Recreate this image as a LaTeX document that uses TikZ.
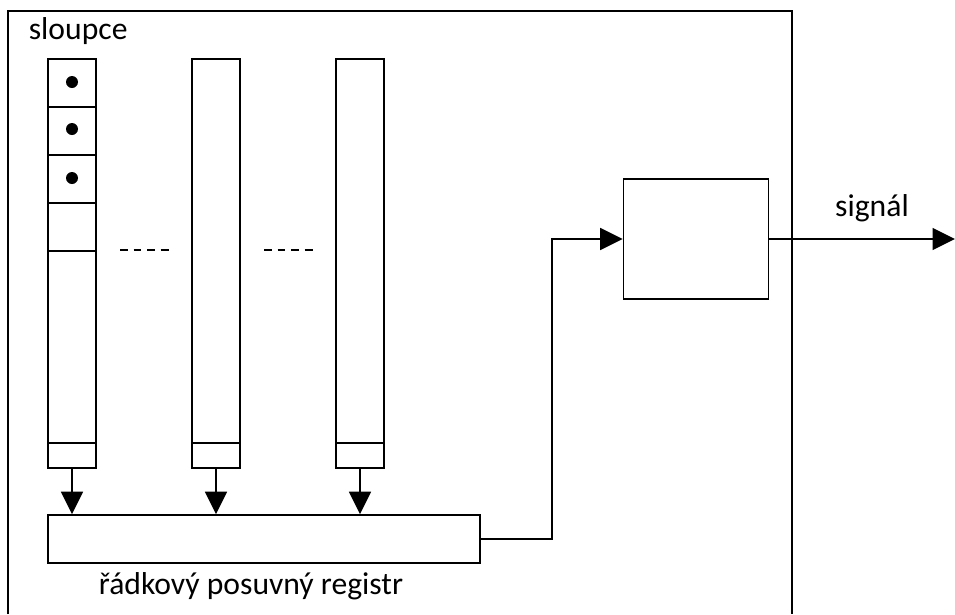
\documentclass[tikz,border=0pt]{standalone}
\usepackage{fontspec}
\setmainfont{Carlito}
\usetikzlibrary{arrows.meta, positioning, calc}

\begin{document}
\begin{tikzpicture}[
    x=0.2mm, y=-0.2mm,
    font=\fontsize{18}{22}\selectfont,
    line width=1pt,
    column/.style={
        rectangle, draw=black, fill=white,
        minimum width=9.6mm, minimum height=81.8mm, inner sep=0pt
    },
    block/.style={
        rectangle, draw=black, fill=white, inner sep=0pt
    },
    dot/.style={circle, fill=black, inner sep=0pt, minimum size=2.4mm},
    gap/.style={dash pattern=on 4.5pt off 3.2pt, line width=0.8pt},
    arrow/.style={draw=black, -{Triangle[length=4.5mm, width=4.4mm]}}
]
\useasboundingbox (0,0) rectangle (955,614);

% 1. OUTER FRAME (open at the bottom)
\draw (8,614) -- (8,11) -- (792,11) -- (792,614);
\node[anchor=west, inner sep=0pt] (Title) at (28,31) {sloupce};

% 2. COLUMNS
\node[column] (Col1) at (72,263.5) {};
\node[column] (Col2) at (216,263.5) {};
\node[column] (Col3) at (360,263.5) {};

% Column 1 cells
\draw (48,107) -- (96,107);
\draw (48,155) -- (96,155);
\draw (48,203) -- (96,203);
\draw (48,251) -- (96,251);
\node[dot] (Dot1) at (72,82) {};
\node[dot] (Dot2) at (72,129) {};
\node[dot] (Dot3) at (72,178) {};

% Last cell of every column
\draw (48,443) -- (96,443);
\draw (192,443) -- (240,443);
\draw (336,443) -- (384,443);

% Dots between the columns
\draw[gap] (120,250) -- (170,250);
\draw[gap] (264,250) -- (314,250);

% 3. ROW SHIFT REGISTER
\node[block, minimum width=86.4mm, minimum height=9.6mm] (Reg) at (264,539) {};
\node[inner sep=0pt] (RegLabel) at (251,586) {řádkový posuvný registr};

\draw[arrow] (Col1.south) -- (Col1.south |- Reg.north);
\draw[arrow] (Col2.south) -- (Col2.south |- Reg.north);
\draw[arrow] (Col3.south) -- (Col3.south |- Reg.north);

% 4. OUTPUT BLOCK
\node[block, minimum width=29mm, minimum height=24mm] (Out) at (696,239) {};
\draw[arrow] (Reg.east) -- (552,539) |- (Out.west);

\coordinate (SigEnd) at (955,239);
\draw[arrow] (Out.east) -- (SigEnd);
\node[inner sep=0pt] (SigLabel) at (872,208) {signál};

\end{tikzpicture}
\end{document}
